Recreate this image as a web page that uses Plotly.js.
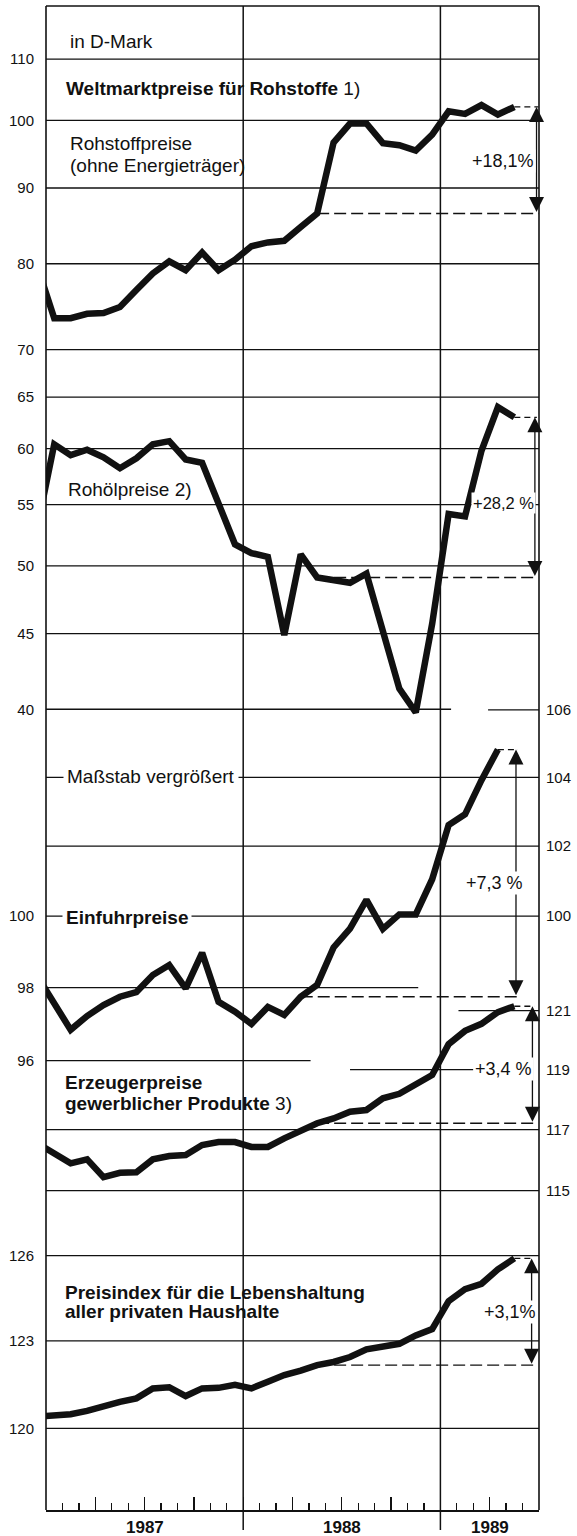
<!DOCTYPE html>
<html><head><meta charset="utf-8">
<script src="https://cdn.plot.ly/plotly-3.0.1.min.js"></script>
<style>html,body{margin:0;padding:0;background:#fff}#chart{width:577px;height:1536px}</style>
</head><body><div id="chart"></div>
<script>
// ---------------- DATA ----------------
const months = ['Dez 1986',
  'Jan 1987','Feb 1987','Mär 1987','Apr 1987','Mai 1987','Jun 1987','Jul 1987','Aug 1987','Sep 1987','Okt 1987','Nov 1987','Dez 1987',
  'Jan 1988','Feb 1988','Mär 1988','Apr 1988','Mai 1988','Jun 1988','Jul 1988','Aug 1988','Sep 1988','Okt 1988','Nov 1988','Dez 1988',
  'Jan 1989','Feb 1989','Mär 1989','Apr 1989','Mai 1989'];
const yearLabels = ['1987','1988','1989'];

const rohstoffpreise = [79.5, 73.5,73.5,74.0,74.1,74.8,76.8,78.8,80.3,79.2,81.4,79.2,80.5,
  82.2,82.7,82.9,84.7,86.5,96.6,99.5,99.5,96.5,96.2,95.4,97.8, 101.4,101.0,102.4,100.9,102.1];
const rohoelpreise = [53.3, 60.4,59.4,59.9,59.2,58.2,59.1,60.4,60.7,59.0,58.7,54.9,51.7,
  51.0,50.7,44.9,50.9,49.1,48.9,48.7,49.4,45.0,41.3,39.8,45.7, 54.2,54.0,59.8,64.0,63.0];
const einfuhrpreise = [98.3, 97.6,96.84,97.22,97.52,97.75,97.88,98.35,98.63,97.98,98.97,97.61,97.34,
  97.0,97.47,97.25,97.75,98.08,99.12,99.65,100.46,99.64,100.05,100.05,101.05, 102.61,102.92,103.92,104.82,null];
const erzeugerpreise = [116.54, 116.22,115.89,116.02,115.44,115.58,115.60,116.02,116.13,116.16,116.49,116.59,116.59,
  116.43,116.43,116.71,116.98,117.21,117.37,117.59,117.65,118.04,118.19,118.49,118.82, 119.86,120.31,120.55,120.95,121.15];
const lebenshaltung = [120.40, 120.45,120.48,120.59,120.77,120.90,121.02,121.36,121.40,121.10,121.36,121.38,121.48,
  121.36,121.59,121.82,121.97,122.16,122.27,122.44,122.71,122.82,122.90,123.19,123.41, 124.39,124.81,125.00,125.51,125.90];

const ticksWeltmarkt = [40,45,50,55,60,65,70,80,90,100,110];
const ticksEinfuhrLeft = [96,98,100];
const ticksEinfuhrRight = [100,102,104,106];
const ticksErzeuger = [115,117,119,121];
const ticksLebenshaltung = [120,123,126];

const changeFrom = ['Mai 1988','Mai 1988','Apr 1988','Mai 1988','Mai 1988'];
const changeTo   = ['Mai 1989','Mai 1989','Apr 1989','Mai 1989','Mai 1989'];
const changeText = ['+18,1%','+28,2 %','+7,3 %','+3,4 %','+3,1%'];

// ---------------- LAYOUT GEOMETRY ----------------
const W = 577, H = 1536, L = 46, R = 38, T = 6, B = 26;
const PW = W - L - R, PH = H - T - B;
const FONT = 'Liberation Sans, Arial, Helvetica, sans-serif';
const INK = '#111';
const px2paperY = py => (H - B - py) / PH;
const px2paperX = px => (px - L) / PW;
function logRange(val, px, k) { const top = Math.log10(val) + (px - T) / k; return [top - PH / k, top]; }

const xs = months.map((m, i) => i - 0.5);   // month centre, months counted from Jan 1987
const series = [
  {y: rohstoffpreise, ax: 'y'},
  {y: rohoelpreise, ax: 'y'},
  {y: einfuhrpreise, ax: 'y2'},
  {y: erzeugerpreise, ax: 'y3'},
  {y: lebenshaltung, ax: 'y4'}
];
const arrowX = [29.85, 29.75, 28.6, 29.6, 29.55];
const labelPy = [161, 503, 883, 1069, 1312];
const labelRightPx = [536, 536, 525, 534, 538];
const labelSize = [18, 16.5, 18, 18, 18];

const traces = series.map(s => ({
  x: xs, y: s.y, yaxis: s.ax, type: 'scatter', mode: 'lines',
  line: {color: INK, width: 6.5}, hoverinfo: 'skip', showlegend: false, connectgaps: false
}));
traces.push({x: [], y: [], yaxis: 'y5', type: 'scatter', mode: 'lines', showlegend: false, hoverinfo: 'skip'});

const shapes = [];
const full = [0, 30];
const grid = [
  ...[45,50,55,60,65,70,80,90,100,110].map(v => ({ax:'y', v, r: full})),
  {ax:'y', v:40, r:[0, 24.65]},
  {ax:'y2', v:106, r:[26.9, 30]}, {ax:'y2', v:104, r: full}, {ax:'y2', v:102, r: full},
  {ax:'y2', v:100, r: full}, {ax:'y2', v:98, r:[0, 22.65]}, {ax:'y2', v:96, r:[0, 16.1]},
  {ax:'y3', v:121, r:[25.1, 30]}, {ax:'y3', v:119, r:[18.5, 26]}, {ax:'y3', v:117, r: full}, {ax:'y3', v:115, r: full},
  {ax:'y4', v:126, r: full}, {ax:'y4', v:123, r: full}, {ax:'y4', v:120, r: full}
];
grid.forEach(g => shapes.push({type:'line', layer:'below', xref:'x', yref:g.ax, x0:g.r[0], x1:g.r[1], y0:g.v, y1:g.v,
  line:{color: INK, width: 1.3}}));

// frame and year separators
shapes.push({type:'line', xref:'paper', yref:'paper', x0:0, x1:0, y0:0, y1:1, line:{color:INK, width:1.6}});
shapes.push({type:'line', xref:'paper', yref:'paper', x0:1, x1:1, y0:0, y1:1, line:{color:INK, width:1.6}});
shapes.push({type:'line', xref:'paper', yref:'paper', x0:0, x1:1, y0:1, y1:1, line:{color:INK, width:1.6}});
[12, 24].forEach(x => shapes.push({type:'line', xref:'x', yref:'paper', x0:x, x1:x, y0:-20/PH, y1:1, line:{color:INK, width:1.5}}));

const annotations = [];
series.forEach((s, k) => {
  const i0 = months.indexOf(changeFrom[k]), i1 = months.indexOf(changeTo[k]);
  const v0 = s.y[i0], v1 = s.y[i1];
  const ax = arrowX[k];
  shapes.push({type:'line', xref:'x', yref:s.ax, x0: xs[i0], x1: ax + 0.12, y0: v0, y1: v0, line:{color:INK, width:1.3, dash:'12px,5px'}});
  shapes.push({type:'line', xref:'x', yref:s.ax, x0: xs[i1], x1: ax + 0.12, y0: v1, y1: v1, line:{color:INK, width:1.3, dash:'6px,4px'}});
  annotations.push({xref:'x', yref:s.ax, axref:'x', ayref:s.ax, x: ax, y: Math.log10(v1), ax: ax, ay: Math.log10(v0),
    text:'', showarrow:true, arrowhead:2, arrowside:'end+start', arrowsize:2.3, arrowwidth:1.3, arrowcolor:INK,
    standoff:0, startstandoff:0});
  annotations.push({xref:'paper', yref:'paper', x: px2paperX(labelRightPx[k]), y: px2paperY(labelPy[k]), xanchor:'right', yanchor:'middle',
    text: changeText[k], showarrow:false, bgcolor:'#fff', borderpad:1, font:{family:FONT, size:labelSize[k], color:INK}});
});

function txt(text, px, py, opts) {
  annotations.push(Object.assign({xref:'paper', yref:'paper', x: px2paperX(px), y: px2paperY(py), xanchor:'left', yanchor:'middle',
    text, showarrow:false, font:{family:FONT, size:19, color:INK}}, opts || {}));
}
txt('in D-Mark', 68, 42);
txt('<b>Weltmarktpreise für Rohstoffe</b> 1)', 64, 89);
txt('Rohstoffpreise', 68, 143);
txt('(ohne Energieträger)', 68, 165);
txt('Rohölpreise 2)', 66, 490);
txt('Maßstab vergrößert', 63, 776, {bgcolor:'#fff', borderpad:3});
txt('<b>Einfuhrpreise</b>', 62, 917, {bgcolor:'#fff', borderpad:3});
txt('<b>Erzeugerpreise</b>', 63, 1082);
txt('<b>gewerblicher Produkte</b> 3)', 63, 1103);
txt('<b>Preisindex für die Lebenshaltung</b>', 63, 1292);
txt('<b>aller privaten Haushalte</b>', 63, 1311);

const yearMid = [6, 18, 27];
yearLabels.forEach((t, i) => annotations.push({xref:'x', yref:'paper', x: yearMid[i], y: px2paperY(1527), xanchor:'center', yanchor:'middle',
  text: '<b>' + t + '</b>', showarrow:false, font:{family:FONT, size:17, color:INK}}));

function yax(range, ticks, side, extra) {
  return Object.assign({type:'log', range, autorange:false, side, anchor:'x', showgrid:false, zeroline:false, showline:false,
    ticks:'', tickmode:'array', tickvals: ticks, ticktext: ticks.map(String), fixedrange:true,
    ticklabelstandoff: side === 'left' ? 11 : 6,
    tickfont:{family:FONT, size:15, color:INK}}, extra || {});
}
const rW = logRange(100, 120.3, 1480);
const rE = logRange(100, 916.2, 8150);
const rZ = logRange(117, 1129.6, 8150);
const rP = logRange(120, 1428.3, 8150);

const layout = {
  width: W, height: H, margin: {l: L, r: R, t: T, b: B}, paper_bgcolor:'#fff', plot_bgcolor:'#fff',
  showlegend: false,
  xaxis: {range:[0,30], showgrid:false, zeroline:false, showline:true, linecolor:INK, linewidth:1.5,
    ticks:'inside', tickmode:'linear', tick0:0, dtick:3, ticklen:13, tickwidth:1.3, tickcolor:INK, showticklabels:false,
    minor:{tickmode:'linear', tick0:0, dtick:1, ticks:'inside', ticklen:7, tickwidth:1.3, tickcolor:INK, showgrid:false},
    fixedrange:true},
  yaxis: yax(rW, ticksWeltmarkt, 'left'),
  yaxis2: yax(rE, ticksEinfuhrLeft, 'left', {overlaying:'y'}),
  yaxis3: yax(rZ, ticksErzeuger, 'right', {overlaying:'y'}),
  yaxis4: yax(rP, ticksLebenshaltung, 'left', {overlaying:'y'}),
  yaxis5: yax(rE, ticksEinfuhrRight, 'right', {overlaying:'y'}),
  shapes, annotations
};
Plotly.newPlot('chart', traces, layout, {staticPlot:true, displayModeBar:false});
</script></body></html>
